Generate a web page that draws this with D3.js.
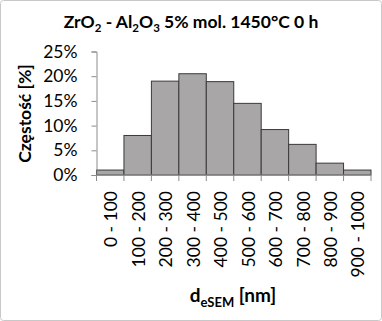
<!DOCTYPE html>
<html>
<head>
<meta charset="utf-8">
<script src="https://cdn.jsdelivr.net/npm/d3@7"></script>
<style>
  body { margin: 0; background: #fff; }
  text { font-family: Lato, "Open Sans", sans-serif; fill: #000; }
</style>
</head>
<body>
<script>
const categories = ["0 - 100", "100 - 200", "200 - 300", "300 - 400", "400 - 500",
                    "500 - 600", "600 - 700", "700 - 800", "800 - 900", "900 - 1000"];
const values = [1.0, 8.0, 19.0, 20.5, 18.9, 14.5, 9.2, 6.2, 2.4, 1.0];
const yTicks = [0, 5, 10, 15, 20, 25];

const width = 382, height = 321;
const margin = { top: 51.5, right: 11, bottom: 146, left: 96.5 };

const svg = d3.select("body").append("svg")
    .attr("width", width)
    .attr("height", height);

// chart border
svg.append("rect")
    .attr("x", 0.5).attr("y", 0.5)
    .attr("width", width - 1).attr("height", height - 1)
    .attr("rx", 3)
    .attr("fill", "#fff")
    .attr("stroke", "#c8c8c8");

const x = d3.scaleBand()
    .domain(categories)
    .range([margin.left, width - margin.right])
    .padding(0);

const y = d3.scaleLinear()
    .domain([0, 25])
    .range([height - margin.bottom, margin.top]);

// bars
svg.append("g").selectAll("rect")
    .data(values)
    .enter().append("rect")
    .attr("x", (d, i) => x(categories[i]))
    .attr("y", d => y(d))
    .attr("width", x.bandwidth())
    .attr("height", d => y(0) - y(d))
    .attr("fill", "#a8a6a6")
    .attr("stroke", "#3a3a3a")
    .attr("stroke-width", 1);

// y axis
const yAxis = svg.append("g")
    .attr("transform", `translate(${margin.left},0)`)
    .call(d3.axisLeft(y).tickValues(yTicks).tickSize(5).tickFormat(d => d + "%"));
yAxis.select(".domain").attr("stroke", "#8c8c8c");
yAxis.selectAll(".tick line").attr("stroke", "#8c8c8c");
yAxis.selectAll(".tick text")
    .attr("x", -19)
    .style("font-size", "17.5px")
    .style("font-family", "Lato");

// x axis line and boundary ticks
const xAxisG = svg.append("g");
xAxisG.append("line")
    .attr("x1", margin.left).attr("x2", width - margin.right)
    .attr("y1", y(0)).attr("y2", y(0))
    .attr("stroke", "#8c8c8c");
const bounds = categories.map(c => x(c)).concat([x(categories[categories.length - 1]) + x.bandwidth()]);
xAxisG.selectAll("line.tk")
    .data(bounds)
    .enter().append("line")
    .attr("class", "tk")
    .attr("x1", d => d).attr("x2", d => d)
    .attr("y1", y(0)).attr("y2", y(0) + 6)
    .attr("stroke", "#8c8c8c");

// x tick labels, rotated
xAxisG.selectAll("text")
    .data(categories)
    .enter().append("text")
    .attr("transform", d => `translate(${x(d) + x.bandwidth() / 2 + 1},${y(0) + 16}) rotate(-90)`)
    .attr("dy", "0.35em")
    .attr("text-anchor", "end")
    .style("font-size", "17.5px")
    .text(d => d);

// title
const title = svg.append("text")
    .attr("x", 191)
    .attr("y", 28)
    .attr("text-anchor", "middle")
    .style("font-size", "17.5px")
    .style("font-weight", "bold");
title.append("tspan").text("ZrO");
title.append("tspan").attr("dy", 4).style("font-size", "11.5px").text("2");
title.append("tspan").attr("dy", -4).text(" - Al");
title.append("tspan").attr("dy", 4).style("font-size", "11.5px").text("2");
title.append("tspan").attr("dy", -4).text("O");
title.append("tspan").attr("dy", 4).style("font-size", "11.5px").text("3");
title.append("tspan").attr("dy", -4).text(" 5% mol. 1450°C 0 h");

// y axis title
svg.append("text")
    .attr("transform", "translate(31,113.5) rotate(-90)")
    .attr("text-anchor", "middle")
    .style("font-size", "17.5px")
    .style("font-weight", "bold")
    .text("Częstość [%]");

// x axis title
const xt = svg.append("text")
    .attr("x", 233)
    .attr("y", 302)
    .attr("text-anchor", "middle")
    .style("font-size", "19px")
    .style("font-weight", "bold");
xt.append("tspan").text("d");
xt.append("tspan").attr("dy", 5).style("font-size", "13px").text("eSEM");
xt.append("tspan").attr("dy", -5).text(" [nm]");
</script>
</body>
</html>
